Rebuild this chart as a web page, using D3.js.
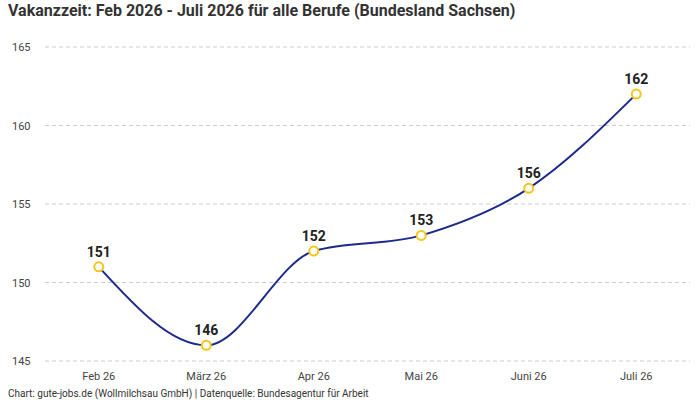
<!DOCTYPE html>
<html><head><meta charset="utf-8">
<script src="https://cdn.jsdelivr.net/npm/d3@7"></script>
<style>body{margin:0;background:#fff}svg{font-family:Roboto,"Noto Sans",sans-serif}</style>
</head><body><svg width="700" height="400"></svg>
<script>
const categories=["Feb 26","März 26","Apr 26","Mai 26","Juni 26","Juli 26"];
const values=[151,146,152,153,156,162];
const yTicks=[145,150,155,160,165];
const svg=d3.select("svg");
const x=d3.scalePoint().domain(categories).range([45,690]).padding(0.5);
const y=d3.scaleLinear().domain([145,165]).range([361,47]);
svg.append("text").attr("x",8).attr("y",16).attr("font-size",16).attr("font-weight","bold").attr("fill","#333")
 .text("Vakanzzeit: Feb 2026 - Juli 2026 für alle Berufe (Bundesland Sachsen)");
const g=svg.append("g");
yTicks.forEach(t=>{
 g.append("line").attr("x1",45).attr("x2",690).attr("y1",y(t)).attr("y2",y(t)).attr("stroke","#ccc").attr("stroke-dasharray","4,3");
 g.append("text").attr("x",12).attr("y",y(t)+4).attr("font-size",11).attr("fill","#444").text(t);
});
categories.forEach(c=>g.append("text").attr("x",x(c)).attr("y",380).attr("text-anchor","middle").attr("font-size",11).attr("fill","#444").text(c));
const line=d3.line().x((d,i)=>x(categories[i])).y(d=>y(d)).curve(d3.curveMonotoneX);
g.append("path").datum(values).attr("d",line).attr("fill","none").attr("stroke","#1c2a8c").attr("stroke-width",2);
values.forEach((v,i)=>{
 g.append("circle").attr("cx",x(categories[i])).attr("cy",y(v)).attr("r",4.5).attr("fill","#fff").attr("stroke","#f5c518").attr("stroke-width",2);
 g.append("text").attr("x",x(categories[i])).attr("y",y(v)-10).attr("text-anchor","middle").attr("font-size",14).attr("font-weight","bold").attr("fill","#222").text(v);
});
svg.append("text").attr("x",8).attr("y",397).attr("font-size",10).attr("fill","#333")
 .text("Chart: gute-jobs.de (Wollmilchsau GmbH) | Datenquelle: Bundesagentur für Arbeit");
</script></body></html>
